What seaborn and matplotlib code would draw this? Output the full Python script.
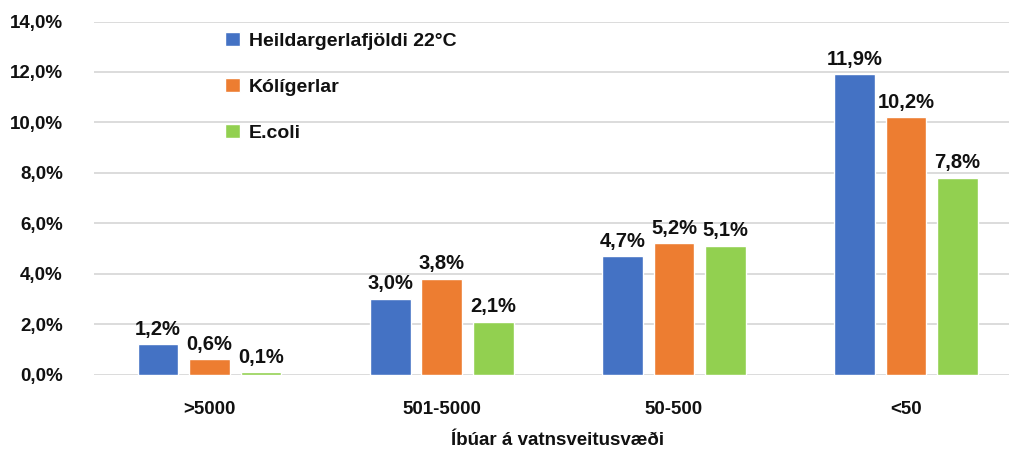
import pandas as pd
import matplotlib.pyplot as plt
import seaborn as sns

flokkar = ['>5000', '501-5000', '50-500', '<50']
heildar = [1.2, 3.0, 4.7, 11.9]
koli = [0.6, 3.8, 5.2, 10.2]
ecoli = [0.1, 2.1, 5.1, 7.8]
radir = ['Heildargerlafjöldi 22°C', 'Kólígerlar', 'E.coli']
litir = ['#4472C4', '#ED7D31', '#92D050']

df = pd.DataFrame({
    'Íbúar': flokkar * 3,
    'hlutfall': heildar + koli + ecoli,
    'röð': [radir[0]] * 4 + [radir[1]] * 4 + [radir[2]] * 4,
})

sns.set_style('white')
plt.rcParams['font.family'] = ['Liberation Sans', 'DejaVu Sans']
plt.rcParams['font.weight'] = 'bold'
dokkt = '#111111'

fig, ax = plt.subplots(figsize=(10.09, 4.53), dpi=100)
# hægri brún er utan myndar, eins og í upprunalegu myndinni
fig.subplots_adjust(left=0.0927, right=1.013, bottom=0.173, top=0.9525)

sns.barplot(ax=ax, data=df, x='Íbúar', y='hlutfall', hue='röð', palette=litir,
            width=0.665, gap=0.21, saturation=1, errorbar=None)

for cont in ax.containers:
    ax.bar_label(cont, labels=[f'{v:.1f}%'.replace('.', ',') for v in cont.datavalues],
                 padding=4, fontsize=14.5, fontweight='bold', color=dokkt)

ax.set_xlim(-0.5, 3.5)
ax.set_ylim(0, 14)
ax.set_yticks(range(0, 15, 2))
ax.set_yticklabels([f'{t:.1f}%'.replace('.', ',') for t in range(0, 15, 2)], fontweight='bold')
ax.set_xticks(range(len(flokkar)))
ax.set_xticklabels(flokkar, fontweight='bold')
ax.yaxis.grid(True, color='#D9D9D9', linewidth=1.3)
ax.set_axisbelow(True)
sns.despine(ax=ax, left=True, bottom=True)
ax.tick_params(axis='y', length=0, pad=22, labelsize=13.5, labelcolor=dokkt)
ax.tick_params(axis='x', length=0, pad=19, labelsize=13.5, labelcolor=dokkt)
ax.set_ylabel('')
ax.set_xlabel('Íbúar á vatnsveitusvæði', fontsize=13.5, fontweight='bold', labelpad=10, color=dokkt)

leg = ax.legend(loc='upper left', bbox_to_anchor=(0.123, 1.02), frameon=False,
                fontsize=14, labelspacing=1.45, handlelength=0.75, handleheight=0.75,
                handletextpad=0.45)
for t in leg.get_texts():
    t.set_fontweight('bold')
    t.set_color(dokkt)

plt.savefig('out.png', dpi=100)
